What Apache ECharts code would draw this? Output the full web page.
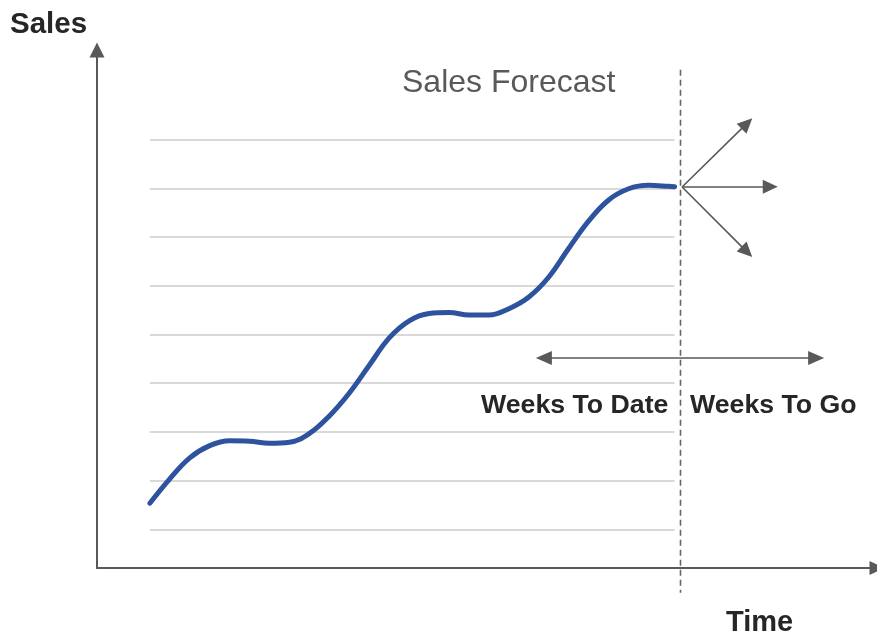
<!DOCTYPE html>
<html><head><meta charset="utf-8">
<script src="https://cdn.jsdelivr.net/npm/echarts@6/dist/echarts.min.js"></script>
<style>html,body{margin:0;padding:0;background:#fff}#c{width:877px;height:633px}</style>
</head><body><div id="c"></div>
<script>
// ---- data ----
const weeks = [0,1,2,3,4,5,6,7,8,9,10,11,12,13,14,15,16,17,18,19,20,21,22,23,24,25,26,26.3];
const sales = [15.4,20.4,24.7,27.2,28.2,28.1,27.7,27.9,29.7,33.3,38.0,43.7,49.3,52.8,54.3,54.5,54.0,54.0,55.3,57.7,61.8,67.7,73.3,77.6,79.9,80.6,80.4,80.3];
const gridValues = [10,20,30,40,50,60,70,80,90];
const gridWeekRange = [0, 26.3];
const todayWeek = 26.6;
const todayLineRange = [104.3, -3.0];
const forecastStart = [26.68, 80.25];
const forecastEnds = [[29.93, 93.3], [31.1, 80.3], [29.93, 66.96]];
const spanWeeks = [19.75, 33.4];
const spanValue = 45.2;
const titleText = 'Sales Forecast';
const yAxisName = 'Sales';
const xAxisName = 'Time';
const pastLabel = 'Weeks To Date';
const futureLabel = 'Weeks To Go';

// ---- chart ----
const FONT = '"Liberation Sans", Arial, sans-serif';
const AXIS_COLOR = '#595959';
const chart = echarts.init(document.getElementById('c'), null, {renderer: 'canvas'});

const option = {
  backgroundColor: '#fff',
  animation: false,
  grid: {left: 97, right: -2, top: 50, bottom: 65, containLabel: false},
  xAxis: {
    type: 'value', min: -2.65, max: 36.45,
    axisLine: {show: true, onZero: false, symbol: ['none', 'triangle'], symbolSize: [14, 15],
      lineStyle: {color: AXIS_COLOR, width: 2}},
    axisTick: {show: false}, axisLabel: {show: false}, splitLine: {show: false}
  },
  yAxis: {
    type: 'value', min: 2.10, max: 108.36,
    axisLine: {show: true, onZero: false, symbol: ['none', 'triangle'], symbolSize: [15, 15],
      lineStyle: {color: AXIS_COLOR, width: 2}},
    axisTick: {show: false}, axisLabel: {show: false}, splitLine: {show: false}
  },
  series: [
    {
      type: 'line', name: 'gridlines', data: [], clip: false, silent: true,
      markLine: {
        silent: true, symbol: ['none', 'none'], label: {show: false}, animation: false,
        lineStyle: {color: '#d9d9d9', width: 2, type: 'solid'},
        data: gridValues.map(v => [{coord: [gridWeekRange[0], v]}, {coord: [gridWeekRange[1], v]}])
      }
    },
    {
      type: 'line', name: 'Sales', z: 5,
      data: weeks.map((w, i) => [w, sales[i]]),
      smooth: 0.4, showSymbol: false, symbol: 'none',
      lineStyle: {color: '#2e539e', width: 5, cap: 'round'}
    },
    {
      type: 'custom', name: 'today', clip: false, silent: true, z: 3,
      data: [[todayWeek, todayLineRange[0], todayLineRange[1]]],
      encode: {x: 0, y: [1, 2]},
      renderItem: function (params, api) {
        const p1 = api.coord([api.value(0), api.value(1)]);
        const p2 = api.coord([api.value(0), api.value(2)]);
        return {
          type: 'line',
          shape: {x1: p1[0], y1: p1[1], x2: p2[0], y2: p2[1]},
          style: {stroke: '#666666', lineWidth: 1.6, lineDash: [6, 4]}
        };
      }
    },
    {
      type: 'line', name: 'forecast', data: [], clip: false, silent: true,
      markLine: {
        silent: true, symbol: ['none', 'triangle'], symbolSize: [14, 15], label: {show: false}, animation: false,
        lineStyle: {color: AXIS_COLOR, width: 1.6, type: 'solid'},
        data: forecastEnds.map(e => [{coord: forecastStart}, {coord: e}])
      }
    },
    {
      type: 'line', name: 'span', data: [], clip: false, silent: true,
      markLine: {
        silent: true, symbol: ['triangle', 'triangle'], symbolSize: [14, 16], label: {show: false}, animation: false,
        lineStyle: {color: AXIS_COLOR, width: 1.6, type: 'solid'},
        data: [[{coord: [spanWeeks[0], spanValue]}, {coord: [spanWeeks[1], spanValue]}]]
      }
    }
  ],
  graphic: [
    {type: 'text', left: 10, top: 10, style: {text: yAxisName, font: 'bold 29.5px ' + FONT, fill: '#262626'}},
    {type: 'text', left: 402, top: 67, style: {text: titleText, font: '32px ' + FONT, fill: '#595959'}},
    {type: 'text', left: 481, top: 392, style: {text: pastLabel, font: 'bold 26.7px ' + FONT, fill: '#262626'}},
    {type: 'text', left: 690, top: 392, style: {text: futureLabel, font: 'bold 26.7px ' + FONT, fill: '#262626'}},
    {type: 'text', left: 726, top: 608, style: {text: xAxisName, font: 'bold 29px ' + FONT, fill: '#262626'}}
  ]
};
chart.setOption(option);
</script>
</body></html>
